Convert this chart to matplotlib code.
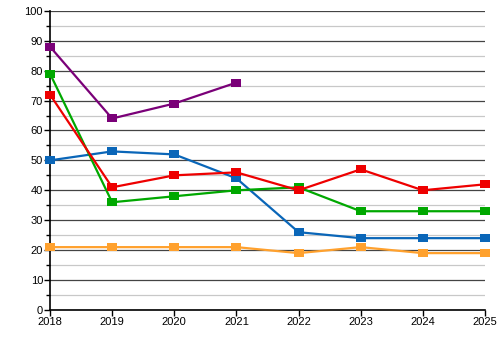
import matplotlib
matplotlib.use('Agg')
import matplotlib.pyplot as plt
from matplotlib.ticker import MultipleLocator

years = [2018, 2019, 2020, 2021, 2022, 2023, 2024, 2025]
purple = [88, 64, 69, 76]
green = [79, 36, 38, 40, 41, 33, 33, 33]
red = [72, 41, 45, 46, 40, 47, 40, 42]
blue = [50, 53, 52, 44, 26, 24, 24, 24]
orange = [21, 21, 21, 21, 19, 21, 19, 19]

plt.rcParams['font.family'] = ['Liberation Sans', 'DejaVu Sans']

fig = plt.figure(figsize=(5, 3.6), dpi=100)
ax = fig.add_axes([0.1, 0.139, 0.87, 0.831])

# wide, flat square markers like the reference
box = [(-1.4, -1), (1.4, -1), (1.4, 1), (-1.4, 1), (-1.4, -1)]

series = [
    (orange, '#ffa12e'),
    (blue, '#0a66b8'),
    (green, '#00a800'),
    (red, '#ee0000'),
    (purple, '#7a0078'),
]
for vals, col in series:
    ax.plot(years[:len(vals)], vals, color=col, lw=1.6, marker=box, ms=7.2,
            mew=0, clip_on=False, zorder=3)

ax.set_xlim(2018, 2025)
ax.set_ylim(0, 100)
ax.yaxis.set_major_locator(MultipleLocator(10))
ax.yaxis.set_minor_locator(MultipleLocator(5))
ax.set_xticks(years)
ax.grid(which='major', axis='y', color='#444444', lw=0.9)
ax.grid(which='minor', axis='y', color='#c8c8c8', lw=0.9)
ax.set_axisbelow(True)
for s in ('top', 'right'):
    ax.spines[s].set_visible(False)
ax.spines['left'].set_linewidth(1.2)
ax.spines['bottom'].set_linewidth(1.2)
ax.tick_params(axis='both', labelsize=8, length=4, width=1, pad=1)
ax.tick_params(axis='y', which='minor', length=3, width=1)

fig.savefig('out.png', dpi=100)
